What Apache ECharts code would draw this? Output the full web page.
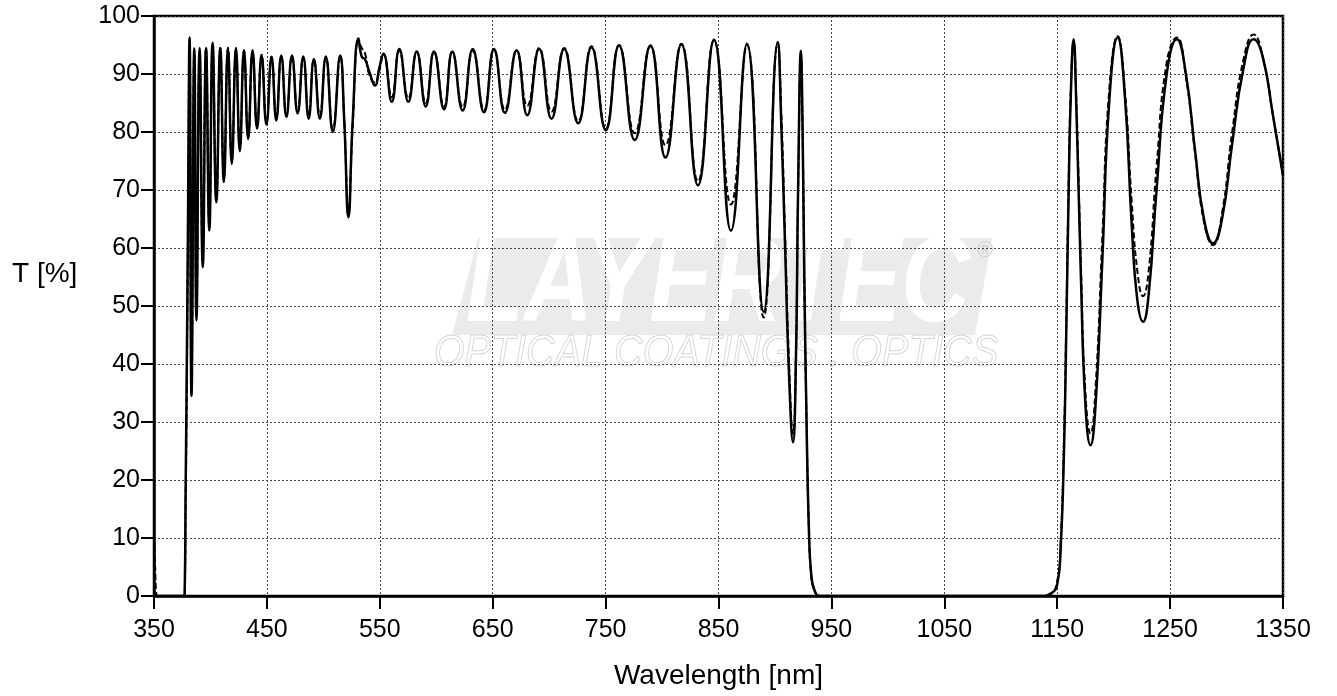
<!DOCTYPE html>
<html>
<head>
<meta charset="utf-8">
<script src="https://cdn.jsdelivr.net/npm/echarts@6/dist/echarts.min.js"></script>
<style>
html,body{margin:0;padding:0;background:#fff;}
#chart{width:1337px;height:696px;}
</style>
</head>
<body>
<div id="chart"></div>
<script>
// Wavelength samples [nm]
const wavelength = [
  350, 351, 352, 353, 376.5, 377.3, 378, 378.8, 380, 381.5,
  383.2, 385.7, 387.6, 390.4, 393.2, 396.1, 399, 401.9, 405.2, 408.7,
  411.9, 415.5, 418.9, 422.6, 426, 429.7, 433.4, 437.3, 441.3, 445.3,
  449.6, 454.1, 458.3, 462.7, 467.3, 472.2, 477.2, 482.2, 487, 491.6,
  496.9, 502.2, 508.4, 514.9, 518.5, 522.2, 526, 531.1, 534, 537,
  540.5, 545.8, 549.5, 553.2, 560.6, 567.3, 575.3, 582.7, 590.7, 598,
  606.9, 614.2, 623.4, 632.3, 642.3, 651.1, 660.8, 671.2, 680.6, 691.2,
  702.1, 713.3, 725.7, 737.5, 750.2, 761.9, 775.8, 789.7, 803, 817.1,
  831.8, 846, 861, 875.2, 890, 902.5, 905.5, 909, 912.5, 916,
  918.5, 920.5, 923, 924.5, 926, 928, 930, 932, 935, 940,
  1135, 1145, 1150, 1153, 1156, 1158, 1160, 1162, 1164.5, 1167,
  1171, 1175, 1179.5, 1184, 1190, 1196, 1203.5, 1210, 1216, 1221,
  1226, 1231, 1238, 1247, 1256, 1264, 1272, 1280, 1288, 1296,
  1305, 1315, 1324, 1332, 1341, 1350
];
// Measured transmittance [%] (solid line)
const measured = [
  0, 0, 0, 0, 0, 2, 18, 34, 62, 96.3,
  34.5, 94.4, 47.5, 94.5, 56.7, 94.5, 63, 95.4, 67.9, 94.5,
  71.4, 94.5, 74.5, 94.5, 76.7, 94.1, 78.8, 94.1, 80.6, 93.2,
  81.3, 92.9, 82, 93.2, 82.6, 93.2, 83.2, 93, 82.3, 92.6,
  82.3, 93, 80, 93.2, 82, 65.3, 82, 96.1, 93, 92.5,
  90.5, 88, 91, 93.5, 85.2, 94.3, 85.2, 93.9, 84.4, 93.9,
  83.9, 93.9, 83.7, 94.3, 83.4, 94.3, 83.3, 94.1, 82.9, 94.3,
  82.3, 94.3, 81.5, 94.6, 80.3, 94.9, 78.6, 94.9, 75.6, 95.1,
  70.8, 95.9, 63, 95.2, 49, 95.5, 82, 60, 38, 26.5,
  40, 70, 94, 80, 55, 30, 12, 4, 1, 0,
  0, 0.5, 2, 8, 25, 45, 68, 86, 96, 84,
  55, 33, 26, 33, 58, 85, 96.3, 86, 64, 51,
  47.3, 52, 70, 90, 96, 90, 77, 65, 60.8, 65,
  78, 91, 96, 93, 83, 72.5
];
// Theoretical transmittance [%] (dashed line)
const theory = [
  10, 5, 0.5, 0, 0, 1, 15, 30, 58, 95,
  38, 94, 50, 94, 58, 94.5, 64, 95, 68.5, 94.5,
  72, 94.5, 75, 94.2, 77.2, 94, 79.2, 93.8, 81, 93.3,
  81.8, 93, 82.5, 93, 83, 93, 83.5, 92.8, 83, 92.5,
  82.8, 92.8, 80.5, 93, 82, 66.5, 81, 95.5, 94.5, 93.5,
  90, 88.5, 90.5, 93.5, 86, 94, 85.8, 93.8, 85, 93.8,
  84.3, 93.8, 84.3, 94, 83.8, 94.2, 83.8, 94, 84.5, 94.5,
  83.5, 94.5, 81.8, 94.8, 80.6, 95, 79.8, 94.8, 77.7, 95.2,
  71.5, 95.8, 67.5, 95, 48, 95.3, 84, 62, 40, 28,
  40, 70, 93, 80, 55, 30, 12, 4, 1, 0,
  0, 0.5, 2.5, 9, 27, 47, 70, 87, 95.5, 85,
  57, 35, 28, 36, 62, 87, 96.5, 87, 68, 56,
  51.7, 56, 74, 92, 96.3, 89.5, 76.5, 64.5, 60.5, 66,
  80, 92.5, 96.8, 93, 83, 72.5
];
const xTicks = { min: 350, max: 1350, step: 100 };
const yTicks = { min: 0, max: 100, step: 10 };

const measuredData = wavelength.map((w, i) => [w, measured[i]]);
const theoryData = wavelength.map((w, i) => [w, theory[i]]);

const FONT = 'Liberation Sans, Arial, sans-serif';
const chart = echarts.init(document.getElementById('chart'), null, { renderer: 'canvas' });
chart.setOption({
  animation: false,
  backgroundColor: '#ffffff',
  grid: {
    left: 154, right: 54, top: 16, bottom: 100,
    show: true, borderColor: '#000', borderWidth: 2.5, backgroundColor: 'transparent'
  },
  graphic: [
    {
      type: 'polygon', z: -10, silent: true,
      shape: { points: [[478, 238], [992, 238], [975, 335], [452, 335]] },
      style: { fill: '#ebebeb' }
    },
    {
      type: 'text', z: -9, silent: true,
      x: 718, y: 287, scaleX: 0.78,
      style: {
        text: 'LAYERTEC', fill: '#ffffff',
        font: 'italic bold 122px ' + FONT,
        align: 'center', verticalAlign: 'middle'
      }
    },
    {
      type: 'text', z: -9, silent: true,
      x: 716, y: 354, scaleX: 0.9,
      style: {
        text: 'OPTICAL COATINGS . OPTICS', fill: 'transparent', stroke: '#d6d6d6', lineWidth: 1,
        font: 'italic 44px ' + FONT,
        align: 'center', verticalAlign: 'middle'
      }
    },
    {
      type: 'text', z: -9, silent: true,
      x: 985, y: 251,
      style: {
        text: '®', fill: '#cfcfcf', font: '22px ' + FONT,
        align: 'center', verticalAlign: 'middle'
      }
    },
    {
      type: 'text', left: 12, top: 260,
      style: { text: 'T [%]', fill: '#000', font: '28px ' + FONT }
    }
  ],
  xAxis: {
    type: 'value',
    min: xTicks.min, max: xTicks.max, interval: xTicks.step,
    name: 'Wavelength [nm]',
    nameLocation: 'middle', nameGap: 66,
    nameTextStyle: { color: '#000', fontSize: 28, fontFamily: FONT },
    axisLine: { lineStyle: { color: '#000', width: 2.5 } },
    axisTick: { show: true, inside: false, length: 13, lineStyle: { color: '#000', width: 2 } },
    axisLabel: { color: '#000', fontSize: 25, fontFamily: FONT, margin: 22, formatter: v => String(v) },
    splitLine: { show: true, lineStyle: { color: '#444', width: 1, type: [2, 2] } }
  },
  yAxis: {
    type: 'value',
    min: yTicks.min, max: yTicks.max, interval: yTicks.step,
    axisLine: { lineStyle: { color: '#000', width: 2.5 } },
    axisTick: { show: true, inside: false, length: 13, lineStyle: { color: '#000', width: 2 } },
    axisLabel: { color: '#000', fontSize: 25, fontFamily: FONT, margin: 14, formatter: v => String(v) },
    splitLine: { show: true, lineStyle: { color: '#444', width: 1, type: [2, 2] } }
  },
  series: [
    {
      name: 'theory', type: 'line', data: theoryData,
      showSymbol: false, smooth: 0.5, clip: true, z: 3,
      lineStyle: { color: '#000', width: 2, type: [6, 3] }
    },
    {
      name: 'measured', type: 'line', data: measuredData,
      showSymbol: false, smooth: 0.5, clip: true, z: 4,
      lineStyle: { color: '#000', width: 2.5 }
    }
  ]
});
</script>
</body>
</html>
